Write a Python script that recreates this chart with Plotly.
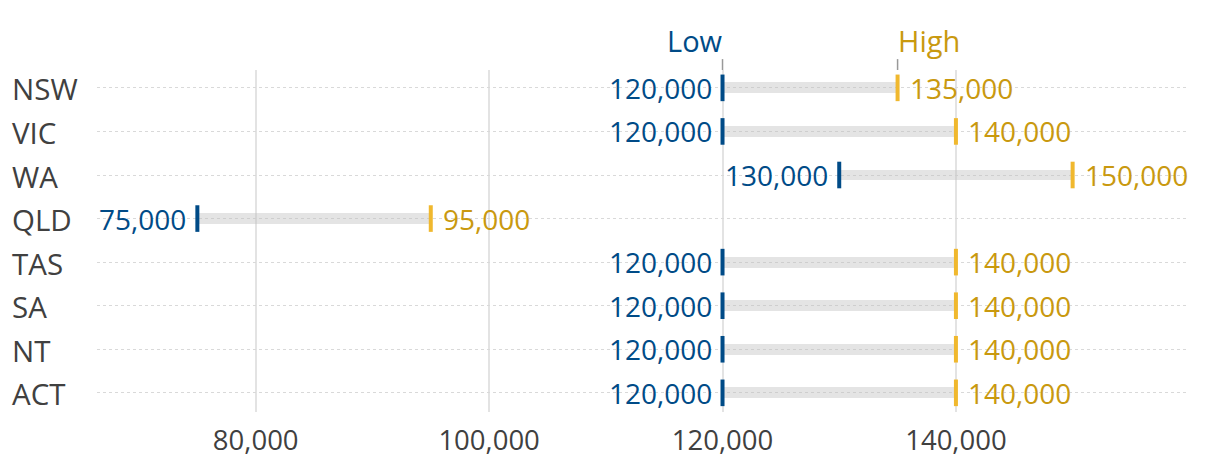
import plotly.graph_objects as go

categories = ["NSW", "VIC", "WA", "QLD", "TAS", "SA", "NT", "ACT"]
low_values = [120000, 120000, 130000, 75000, 120000, 120000, 120000, 120000]
high_values = [135000, 140000, 150000, 95000, 140000, 140000, 140000, 140000]
tick_values = [80000, 100000, 120000, 140000]
tick_labels = ["80,000", "100,000", "120,000", "140,000"]

LOW_COLOR = "#004b87"
HIGH_MARK = "#f0b82e"
HIGH_TEXT = "#c9990f"
FONT = "Open Sans"

fig = go.Figure()

fig.add_trace(go.Bar(
    y=categories,
    x=[h - l for h, l in zip(high_values, low_values)],
    base=low_values,
    orientation="h",
    width=0.25,
    marker=dict(color="rgba(190,190,190,0.42)", line=dict(width=0)),
    hoverinfo="skip",
))

fig.add_trace(go.Scatter(
    y=categories, x=low_values,
    mode="markers",
    marker=dict(symbol="line-ns", size=19, line=dict(width=4, color=LOW_COLOR)),
    cliponaxis=False,
))

fig.add_trace(go.Scatter(
    y=categories, x=high_values,
    mode="markers",
    marker=dict(symbol="line-ns", size=19, line=dict(width=4, color=HIGH_MARK)),
    cliponaxis=False,
))

W, H = 1212, 462
plot_left, plot_right = 89, 1179
plot_top, plot_bottom = 62, 407
plot_w = plot_right - plot_left
plot_h = plot_bottom - plot_top

annotations = []
for c in categories:
    annotations.append(dict(
        x=(2 - plot_left) / plot_w, xref="paper", y=c, yref="y",
        text=c, showarrow=False, xanchor="left", yanchor="middle", yshift=-1,
        font=dict(family=FONT, size=29.5, color="#404040"),
    ))

for c, lo, hi in zip(categories, low_values, high_values):
    annotations.append(dict(
        x=lo, xref="x", y=c, yref="y", text=f"{lo:,}", showarrow=False,
        xanchor="right", yanchor="middle", xshift=-9, yshift=0,
        font=dict(family=FONT, size=28, color=LOW_COLOR),
    ))
    annotations.append(dict(
        x=hi, xref="x", y=c, yref="y", text=f"{hi:,}", showarrow=False,
        xanchor="left", yanchor="middle", xshift=10, yshift=0,
        font=dict(family=FONT, size=28, color=HIGH_TEXT),
    ))

annotations.append(dict(
    x=low_values[0], xref="x", y=1, yref="paper", yanchor="bottom", xanchor="right",
    yshift=8, xshift=2, text="Low", showarrow=False,
    font=dict(family=FONT, size=29, color=LOW_COLOR),
))
annotations.append(dict(
    x=high_values[0], xref="x", y=1, yref="paper", yanchor="bottom", xanchor="left",
    yshift=8, xshift=-2, text="High", showarrow=False,
    font=dict(family=FONT, size=29, color=HIGH_TEXT),
))

shapes = []
for xv in (low_values[0], high_values[0]):
    shapes.append(dict(
        type="line", xref="x", yref="paper", x0=xv, x1=xv, y0=1.0, y1=1.0 + 11 / plot_h,
        line=dict(color="#999999", width=1.5),
    ))

fig.update_layout(
    width=W, height=H,
    margin=dict(l=plot_left, r=W - plot_right, t=plot_top, b=H - plot_bottom),
    paper_bgcolor="white", plot_bgcolor="white",
    showlegend=False,
    bargap=0,
    annotations=annotations,
    shapes=shapes,
    font=dict(family=FONT, color="#404040"),
)

fig.update_xaxes(
    range=[66400, 159800],
    tickvals=tick_values, ticktext=tick_labels,
    tickfont=dict(family=FONT, size=27.5, color="#404040"),
    showgrid=True, gridcolor="#e3e3e3", gridwidth=2,
    zeroline=False, showline=False,
    ticks="outside", ticklen=4, tickcolor="rgba(0,0,0,0)",
)
fig.update_yaxes(
    categoryorder="array", categoryarray=categories,
    range=[7.44, -0.41],
    showticklabels=False,
    showgrid=True, gridcolor="#d9d9d9", gridwidth=1, griddash="dot",
    zeroline=False, showline=False,
)

fig.write_html("out.html")
